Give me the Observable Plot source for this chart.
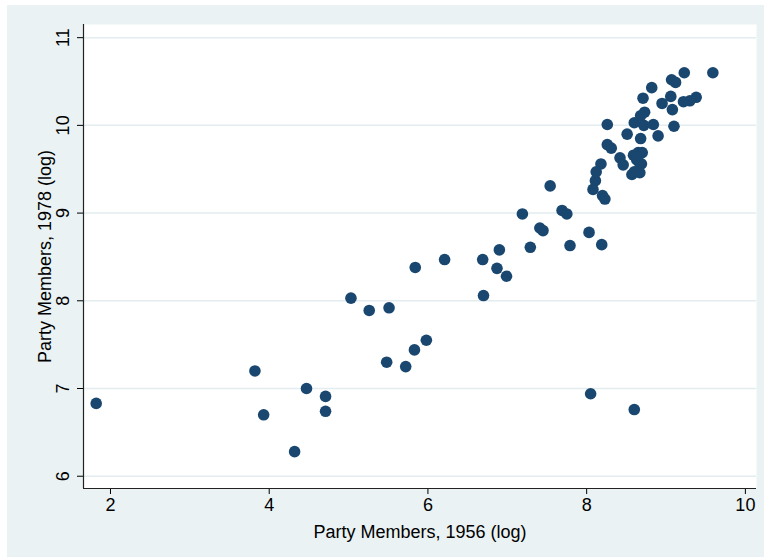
<!DOCTYPE html>
<html><head><meta charset="utf-8">
<script src="https://cdn.jsdelivr.net/npm/d3@7"></script>
<script src="https://cdn.jsdelivr.net/npm/@observablehq/plot@0.6"></script>
<style>
body{margin:0;background:#fff;}
#wrap{position:absolute;left:7px;top:5px;width:757px;height:552px;background:#eaf2f3;}
</style></head><body><div id="wrap"></div>
<script>
const members1956 = [1.82,3.82,3.93,4.47,4.71,4.71,4.32,5.03,5.26,5.51,5.84,6.21,5.48,5.72,5.83,5.98,6.69,6.90,6.87,6.99,6.70,7.19,7.29,7.41,7.45,7.54,7.69,7.75,7.79,8.05,8.60,8.03,8.19,
  8.26,8.26,8.31,8.18,8.12,8.11,8.08,8.20,8.23,8.42,8.46,8.51,8.60,8.72,8.84,8.90,9.10,8.68,8.73,8.68,8.71,8.82,9.07,9.12,9.23,9.59,9.06,9.38,9.30,9.22,8.95,9.08,8.59,8.65,8.70,8.63,8.69,8.57,8.67,8.60,8.66];
const members1978 = [6.83,7.20,6.70,7.00,6.91,6.74,6.28,8.03,7.89,7.92,8.38,8.47,7.30,7.25,7.44,7.55,8.47,8.58,8.37,8.28,8.06,8.99,8.61,8.83,8.80,9.31,9.03,8.99,8.63,6.94,6.76,8.78,8.64,
  10.01,9.78,9.74,9.56,9.47,9.37,9.27,9.20,9.16,9.63,9.55,9.90,10.03,10.00,10.01,9.88,9.99,9.85,10.15,10.11,10.31,10.43,10.52,10.49,10.60,10.60,10.33,10.32,10.28,10.27,10.25,10.18,9.66,9.69,9.69,9.61,9.56,9.44,9.46,9.47,9.58];
const xTicks = [2, 4, 6, 8, 10];
const yTicks = [6, 7, 8, 9, 10, 11];
const xDomain = [1.66, 10.14];
const yDomain = [5.86, 11.15];
const xTitle = "Party Members, 1956 (log)";
const yTitle = "Party Members, 1978 (log)";

const data = members1956.map((x, i) => ({x, y: members1978[i]}));

const plot = Plot.plot({
  width: 757, height: 552,
  marginLeft: 76, marginTop: 19, marginRight: 8, marginBottom: 69,
  style: {background: "transparent", fontFamily: "'Liberation Sans', Arial, Helvetica, sans-serif", fontSize: "18px", color: "#000", overflow: "visible"},
  x: {domain: xDomain},
  y: {domain: yDomain},
  marks: [
    Plot.frame({fill: "white", stroke: "none"}),
    Plot.gridY(yTicks, {stroke: "#e3ecef", strokeOpacity: 1, strokeWidth: 1.5}),
    Plot.axisX(xTicks, {tickSize: 6, tickPadding: 4, label: null, fontSize: 18, tickFormat: d => String(d)}),
    Plot.axisY(yTicks, {tickSize: 6, tickPadding: 9, tickRotate: -90, label: null, fontSize: 18, tickFormat: d => String(d)}),
    Plot.ruleX([xDomain[0]], {stroke: "#222", strokeWidth: 1.2}),
    Plot.ruleY([yDomain[0]], {stroke: "#222", strokeWidth: 1.2}),
    Plot.dot(data, {x: "x", y: "y", r: 5.8, fill: "#1a476f", stroke: null}),
    Plot.text([xTitle], {frameAnchor: "bottom", dy: 44, text: d => d, fontSize: 18, lineAnchor: "middle", textAnchor: "middle"}),
    Plot.text([yTitle], {frameAnchor: "left", dx: -38, text: d => d, fontSize: 18, rotate: -90, lineAnchor: "middle", textAnchor: "middle"})
  ]
});
document.getElementById("wrap").appendChild(plot);
</script></body></html>
